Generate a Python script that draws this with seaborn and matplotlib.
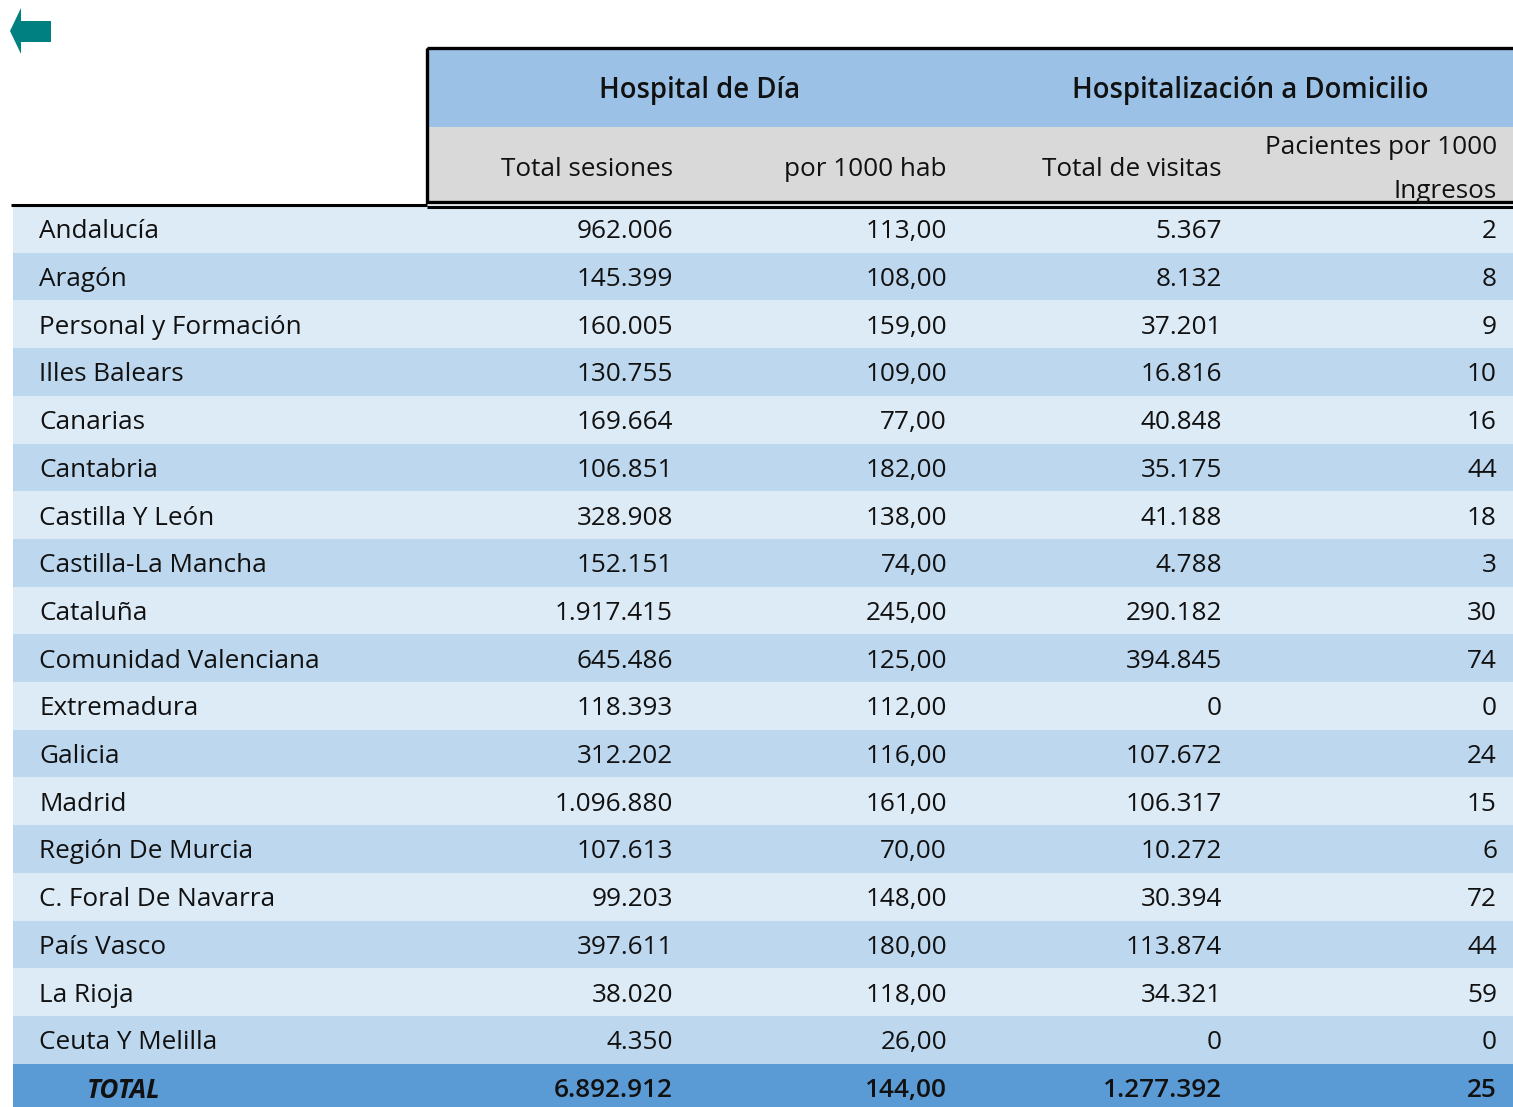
import matplotlib
matplotlib.use("Agg")
import matplotlib.pyplot as plt
from matplotlib.patches import Rectangle, Polygon
import seaborn as sns

# ---- data ----
regions = ["Andalucía", "Aragón", "Personal y Formación", "Illes Balears", "Canarias",
           "Cantabria", "Castilla Y León", "Castilla-La Mancha", "Cataluña",
           "Comunidad Valenciana", "Extremadura", "Galicia", "Madrid",
           "Región De Murcia", "C. Foral De Navarra", "País Vasco", "La Rioja",
           "Ceuta Y Melilla"]
total_sesiones = [962006, 145399, 160005, 130755, 169664, 106851, 328908, 152151,
                  1917415, 645486, 118393, 312202, 1096880, 107613, 99203, 397611,
                  38020, 4350]
sesiones_1000 = [113.0, 108.0, 159.0, 109.0, 77.0, 182.0, 138.0, 74.0, 245.0, 125.0,
                 112.0, 116.0, 161.0, 70.0, 148.0, 180.0, 118.0, 26.0]
total_visitas = [5367, 8132, 37201, 16816, 40848, 35175, 41188, 4788, 290182, 394845,
                 0, 107672, 106317, 10272, 30394, 113874, 34321, 0]
pacientes_1000 = [2, 8, 9, 10, 16, 44, 18, 3, 30, 74, 0, 24, 15, 6, 72, 44, 59, 0]
total_row = ["TOTAL", 6892912, 144.0, 1277392, 25]

group_titles = ["Hospital de Día", "Hospitalización a Domicilio"]
sub_titles = ["Total sesiones", "por 1000 hab", "Total de visitas", "Pacientes por 1000\nIngresos"]


def fmt_int(v):
    return f"{v:,}".replace(",", ".")


def fmt_dec(v):
    return f"{v:.2f}".replace(".", ",")


sns.set_theme(style="white")
plt.rcParams["font.family"] = ["Open Sans", "DejaVu Sans"]

W, H = 1513, 1107
fig = plt.figure(figsize=(W / 100, H / 100), dpi=100)

# body rows
row_h = 47.7
top = 205
n = len(regions) + 1
body_bottom = top + n * row_h
ax = fig.add_axes([13 / W, (H - body_bottom) / H, 1500 / W, n * row_h / H])
labels = regions + [total_row[0]]
row_colors = ["#DDEBF7" if i % 2 == 0 else "#BDD7EE" for i in range(len(regions))] + ["#5B9BD5"]
sns.barplot(x=[1500] * n, y=labels, hue=labels, palette=row_colors, legend=False,
            orient="h", width=1.0, saturation=1, linewidth=0, ax=ax)
ax.set_xlim(0, 1500)
ax.set_ylim(n - 0.5, -0.5)
ax.axis("off")

fs = 18.8
col_right = [660, 934, 1209, 1484]
for i, name in enumerate(regions):
    ax.text(26, i, name, ha="left", va="center_baseline", fontsize=fs, color="#111111")
    vals = [fmt_int(total_sesiones[i]), fmt_dec(sesiones_1000[i]),
            fmt_int(total_visitas[i]), str(pacientes_1000[i])]
    for x, v in zip(col_right, vals):
        ax.text(x, i, v, ha="right", va="center_baseline", fontsize=fs, color="#111111")

i = n - 1
ax.text(74, i, total_row[0], ha="left", va="center_baseline", fontsize=fs,
        fontweight="bold", fontstyle="italic", color="#111111")
tvals = [fmt_int(total_row[1]), fmt_dec(total_row[2]), fmt_int(total_row[3]), str(total_row[4])]
for x, v in zip(col_right, tvals):
    ax.text(x, i, v, ha="right", va="center_baseline", fontsize=fs,
            fontweight="semibold", color="#111111")

# header overlay in pixel coordinates
hx = fig.add_axes([0, 0, 1, 1])
hx.set_xlim(0, W)
hx.set_ylim(H, 0)
hx.axis("off")
hx.patch.set_alpha(0)

hx.add_patch(Rectangle((427, 49), W - 427, 78, facecolor="#9BC2E6", edgecolor="none"))
hx.add_patch(Rectangle((427, 127), W - 427, 75, facecolor="#D9D9D9", edgecolor="none"))
hx.add_patch(Rectangle((427, 48), W - 427 + 10, 154, facecolor="none",
                       edgecolor="black", linewidth=2.4))
hx.plot([11, 427], [205, 205], color="black", linewidth=2.2, solid_capstyle="butt")
hx.plot([427, W], [207, 207], color="black", linewidth=2.2, solid_capstyle="butt")

gfs = 19.8
hx.text(700, 87, group_titles[0], ha="center", va="center_baseline", fontsize=gfs,
        fontweight="semibold", color="#111111")
hx.text(1250, 87, group_titles[1], ha="center", va="center_baseline", fontsize=gfs,
        fontweight="semibold", color="#111111")
hx.text(673, 166, sub_titles[0], ha="right", va="center_baseline", fontsize=fs, color="#111111")
hx.text(947, 166, sub_titles[1], ha="right", va="center_baseline", fontsize=fs, color="#111111")
hx.text(1222, 166, sub_titles[2], ha="right", va="center_baseline", fontsize=fs, color="#111111")
line1, line2 = sub_titles[3].split("\n")
hx.text(1497, 145, line1, ha="right", va="center_baseline", fontsize=fs, color="#111111")
hx.text(1497, 188, line2, ha="right", va="center_baseline", fontsize=fs, color="#111111")

# back arrow
hx.add_patch(Polygon([(10, 31), (21, 8), (21, 21), (51, 21), (51, 42), (21, 42), (21, 54)],
                     closed=True, facecolor="#008080", edgecolor="none"))

fig.savefig("out.png", dpi=100)
